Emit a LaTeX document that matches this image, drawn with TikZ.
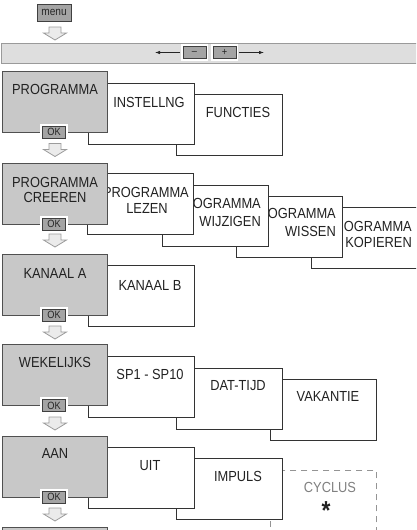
\documentclass[tikz,border=0pt]{standalone}
\usepackage{fontspec}
\setmainfont[FakeStretch=0.88]{Liberation Sans}
\usetikzlibrary{arrows.meta}
\definecolor{txt}{HTML}{222222}
\definecolor{gfill}{HTML}{C8C8C8}
\definecolor{gline}{HTML}{505050}
\definecolor{btnfill}{HTML}{A4A4A4}
\definecolor{barfill}{HTML}{DEDEDE}
\definecolor{barline}{HTML}{9A9A9A}
\definecolor{arrline}{HTML}{9C9C9C}
\definecolor{arrfill}{HTML}{EBEBEB}
\begin{document}
\begin{tikzpicture}[x=1pt,y=-1pt,
  every node/.style={text=txt},
  lbl/.style={inner sep=0pt, font=\fontsize{14.6}{17}\selectfont, text height=10.4pt, text depth=0pt},
  graybox/.style={draw=gline, fill=gfill, line width=0.9pt, minimum width=105pt, minimum height=61pt, inner sep=0pt, anchor=north west},
  whitebox/.style={draw=black!80, fill=white, line width=0.9pt, minimum width=106pt, minimum height=61pt, inner sep=0pt, anchor=north west},
  dashbox/.style={draw=black!42, line width=0.9pt, dash pattern=on 6pt off 5pt, minimum width=106pt, minimum height=100pt, inner sep=0pt, anchor=north west},
  btn/.style={draw=black!75, fill=btnfill, line width=0.8pt, inner sep=0pt, preaction={draw=white, line width=4.5pt}, font=\fontsize{10.5}{10.5}\selectfont, text=black!85},
  okbtn/.style={btn, minimum width=23pt, minimum height=12pt},
  barstyle/.style={draw=barline, fill=barfill, line width=0.9pt, minimum width=420pt, minimum height=20pt, inner sep=0pt, anchor=north west},
  barrow/.style={draw=black!85, line width=0.8pt, -{Latex[length=5pt,width=3.5pt]}},
  pics/darrow/.style={code={\draw[draw=arrline, fill=arrfill, line width=0.8pt, line join=miter] (-6,0) -- (6,0) -- (6,6) -- (11.5,6) -- (0,13) -- (-11.5,6) -- (-6,6) -- cycle;}}
]
\path[use as bounding box, clip] (0,0) rectangle (416,530);
\fill[white] (0,0) rectangle (416,530);

% menu and bar
\node[btn, minimum width=34pt, minimum height=17pt, font=\fontsize{11.5}{11.5}\selectfont] (menu) at (54,12.5) {menu};
\pic at (55,27) {darrow};
\node[barstyle] (bar) at (0.5,43) {};
\coordinate (la) at (155,52.5);
\coordinate (ra) at (264,52.5);
\node[btn, minimum width=23pt, minimum height=12pt] (minus) at (194.5,52.5) {--};
\node[btn, minimum width=23pt, minimum height=12pt] (plus) at (224.5,52.5) {+};
\draw[barrow] (minus.west) ++(-2.5,0) -- (la);
\draw[barrow] (plus.east) ++(2.5,0) -- (ra);

% row 1
\node[whitebox] (functies) at (176,94) {};
\node[lbl] (tfunc) at (238,112) {FUNCTIES};
\node[whitebox] (instel) at (88,83) {};
\node[lbl] (tinst) at (149,102) {INSTELLNG};
\node[graybox] (prog) at (2,71) {};
\node[lbl] (tprog) at (55,89) {PROGRAMMA};
\node[okbtn] (ok1) at (54,132) {OK};
\pic at (55,143.5) {darrow};

% row 2
\node[whitebox, minimum width=120pt] (kop) at (311,207) {};
\node[lbl, anchor=east] (tkop1) at (412,226) {PROGRAMMA};
\node[lbl, anchor=east] (tkop2) at (412,242.5) {KOPIEREN};
\node[whitebox] (wis) at (236,196) {};
\node[lbl, anchor=east] (twis1) at (336,213) {PROGRAMMA};
\node[lbl, anchor=east] (twis2) at (336,231) {WISSEN};
\node[whitebox] (wijz) at (162,185) {};
\node[lbl, anchor=east] (twij1) at (261,203) {PROGRAMMA};
\node[lbl, anchor=east] (twij2) at (261,221) {WIJZIGEN};
\node[whitebox] (lez) at (87,173) {};
\node[lbl, anchor=east] (tlez1) at (189,192) {PROGRAMMA};
\node[lbl] (tlez2) at (147,208) {LEZEN};
\node[graybox] (creer) at (2,163) {};
\node[lbl] (tcre1) at (55,182) {PROGRAMMA};
\node[lbl] (tcre2) at (55,197) {CREEREN};
\node[okbtn] (ok2) at (54,224) {OK};
\pic at (55,234) {darrow};

% row 3
\node[whitebox] (kanb) at (88,265) {};
\node[lbl] (tkanb) at (150,285) {KANAAL B};
\node[graybox] (kana) at (2,254) {};
\node[lbl] (tkana) at (55,273) {KANAAL A};
\node[okbtn] (ok3) at (54,315) {OK};
\pic at (55,326) {darrow};

% row 4
\node[whitebox] (vak) at (270,379) {};
\node[lbl] (tvak) at (328,396) {VAKANTIE};
\node[whitebox] (dat) at (176,368) {};
\node[lbl] (tdat) at (238,385) {DAT-TIJD};
\node[whitebox] (sp) at (88,356) {};
\node[lbl] (tsp) at (150,374) {SP1 - SP10};
\node[graybox] (wek) at (2,344) {};
\node[lbl] (twek) at (55,362) {WEKELIJKS};
\node[okbtn] (ok4) at (54,405.5) {OK};
\pic at (55,417) {darrow};

% row 5
\node[dashbox] (cyc) at (270,470) {};
\node[lbl, text=black!50] (tcyc) at (330,487) {CYCLUS};
\node[inner sep=0pt, anchor=base, font=\fontsize{26}{26}\selectfont\bfseries] (ast) at (326,519) {*};
\node[whitebox] (imp) at (176,458) {};
\node[lbl] (timp) at (238,476) {IMPULS};
\node[whitebox] (uit) at (88,447) {};
\node[lbl] (tuit) at (150,465) {UIT};
\node[graybox] (aan) at (2,436) {};
\node[lbl] (taan) at (55,453) {AAN};
\node[okbtn] (ok5) at (54,497) {OK};
\pic at (55,508) {darrow};

% row 6
\node[graybox] (next) at (2,527) {};
\end{tikzpicture}
\end{document}
